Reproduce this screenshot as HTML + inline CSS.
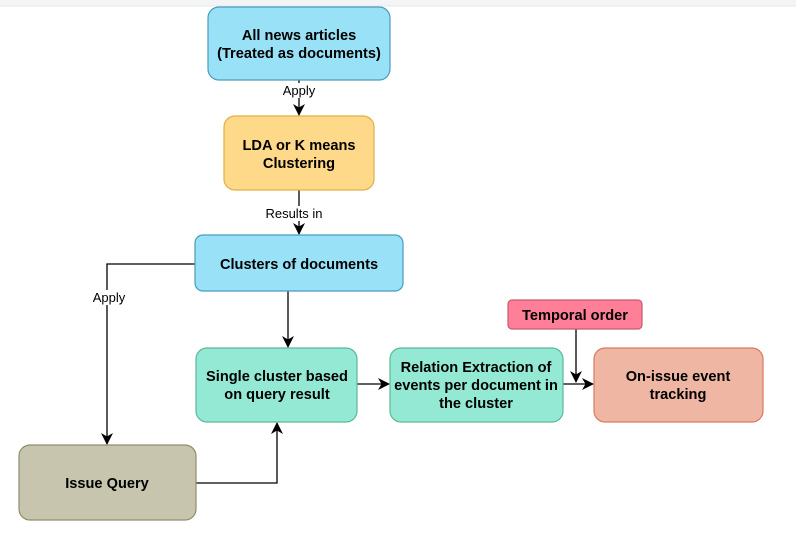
<!DOCTYPE html>
<html><head><style>body{margin:0;background:#fff}svg{display:block}text{font-family:"Liberation Sans",Arial,sans-serif}</style></head>
<body>
<svg width="796" height="544" viewBox="0 0 796 544" xmlns="http://www.w3.org/2000/svg">
<defs><marker id="a" markerWidth="12" markerHeight="12" refX="11" refY="6" orient="auto" markerUnits="userSpaceOnUse"><path d="M0,0 L12,6 L0,12 L3.5,6 Z" fill="#000"/></marker></defs>
<rect x="0" y="0" width="796" height="6" fill="#f3f4f6"/>
<line x1="0" y1="6" x2="796" y2="6" stroke="#e5e7eb"/>
<g stroke="#000" stroke-width="1.3" fill="none">
<line x1="299" y1="80" x2="299" y2="115" marker-end="url(#a)"/>
<line x1="299" y1="190" x2="299" y2="234" marker-end="url(#a)"/>
<polyline points="195,264 107,264 107,444" marker-end="url(#a)"/>
<line x1="288" y1="291" x2="288" y2="347" marker-end="url(#a)"/>
<polyline points="196,483 277,483 277,423" marker-end="url(#a)"/>
<line x1="357" y1="384" x2="389" y2="384" marker-end="url(#a)"/>
<line x1="563" y1="384" x2="593" y2="384" marker-end="url(#a)"/>
<line x1="576" y1="329" x2="576" y2="382" marker-end="url(#a)"/>
</g>
<g font-size="13" text-anchor="middle">
<rect x="280" y="83" width="38" height="15" fill="#fff"/><text x="299" y="95">Apply</text>
<rect x="263" y="206" width="72" height="15" fill="#fff"/><text x="294" y="218">Results in</text>
<rect x="90" y="290" width="38" height="15" fill="#fff"/><text x="109" y="302">Apply</text>
</g>
<g stroke-width="1.2">
<rect x="208" y="7" width="182" height="73" rx="11" fill="#99e1f7" stroke="#4a9bbd"/>
<rect x="224" y="116" width="150" height="74" rx="11" fill="#ffd98a" stroke="#e0b040"/>
<rect x="195" y="235" width="208" height="56" rx="8" fill="#99e1f7" stroke="#4a9bbd"/>
<rect x="196" y="348" width="161" height="74" rx="11" fill="#94e9d4" stroke="#5cb896"/>
<rect x="390" y="348" width="173" height="74" rx="11" fill="#94e9d4" stroke="#5cb896"/>
<rect x="508" y="300" width="134" height="29" rx="4" fill="#ff7f98" stroke="#c85a72"/>
<rect x="594" y="348" width="169" height="74" rx="11" fill="#efb6a4" stroke="#d97a60"/>
<rect x="19" y="445" width="177" height="75" rx="11" fill="#c7c5ae" stroke="#8f8d70"/>
</g>
<g font-size="14.6" font-weight="bold" text-anchor="middle" fill="#000">
<text x="299" y="40">All news articles</text><text x="299" y="58">(Treated as documents)</text>
<text x="299" y="150">LDA or K means</text><text x="299" y="168">Clustering</text>
<text x="299" y="269">Clusters of documents</text>
<text x="277" y="381">Single cluster based</text><text x="277" y="399">on query result</text>
<text x="476" y="372">Relation Extraction of</text><text x="476" y="390">events per document in</text><text x="476" y="408">the cluster</text>
<text x="575" y="320">Temporal order</text>
<text x="678" y="381">On-issue event</text><text x="678" y="399">tracking</text>
<text x="107" y="488">Issue Query</text>
</g>
</svg>
</body></html>
